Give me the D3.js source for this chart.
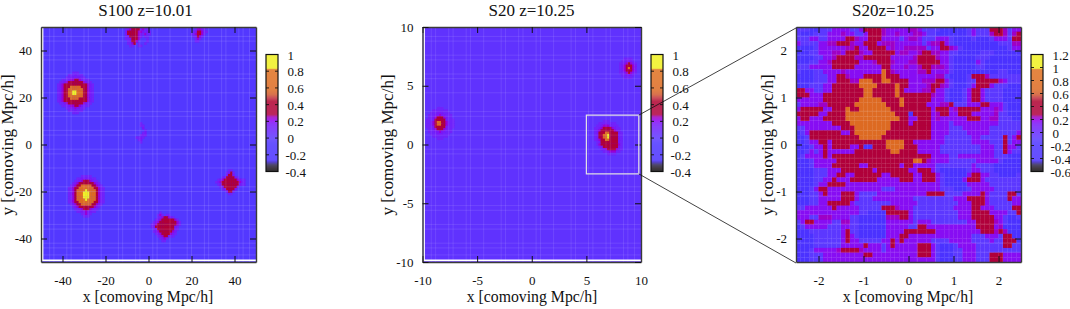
<!DOCTYPE html>
<html>
<head>
<meta charset="utf-8">
<script src="https://cdn.jsdelivr.net/npm/d3@7"></script>
<style>
html, body { margin: 0; padding: 0; background: #fff; }
text { font-family: "Liberation Serif", serif; fill: #111; }
</style>
</head>
<body>
<script>
// value of each digit used in the map rows below
const levelValues = [-0.25, -0.08, 0.17, 0.24, 0.12, 0.36, 0.7, 0.6, 1.0];

// colour palette, position along the colour bar (0 bottom, 1 top)
const paletteStops = [0, 0.03, 0.06, 0.085, 0.1, 0.24, 0.28, 0.41, 0.44, 0.47, 0.49, 0.6, 0.63, 0.66, 0.7, 0.82, 0.875, 0.885, 1];
const paletteColors = ["#0c0c0c", "#201820", "#302a50", "#3a20d0", "#4a30ff", "#4c34ff", "#5a3aff", "#7a18f8", "#9000f0", "#a000c0", "#b00040", "#b00030", "#c03040", "#d05a30", "#dc6a24", "#e07020", "#e07020", "#f0f020", "#f0f020"];

const s100Background = -0.04;
const s20Background = 0.03;

// S100 hot spots
const s100SpotA = [
  ".........444.........",
  ".......4442444.......",
  "......442222244......",
  "....4442335532444....",
  "...442355555553244...",
  "..42355555555555324..",
  "..42355577777555324..",
  "..42355766666755324..",
  "..42355768867755324..",
  "..42355768867755324..",
  "..42355766667755324..",
  "..42355577775555324..",
  "..42355555555555324..",
  "...442355555553244...",
  "....4442335532444....",
  "......442232244......",
  ".......4442444.......",
  ".........444........."
];
const s100SpotB = [
  ".......44444.......",
  ".....442222244.....",
  "....44235553244....",
  "...4235555555324...",
  "..423557777755324..",
  ".42355776667755324.",
  ".42357766866775324.",
  ".42357768886775324.",
  ".42357768886775324.",
  ".42357768886775324.",
  ".42357766866775324.",
  ".42355776667755324.",
  "..423557777755324..",
  "...4235555555324...",
  "....44235553244....",
  ".....442232244.....",
  ".......42324.......",
  "........444........"
];
const s100SpotC = [
  ".......44.......",
  "......4254......",
  "......2552......",
  "....42555524....",
  "..4235555553244.",
  ".42355555555324.",
  "..4255555555244.",
  "...425555552....",
  "....4255552.....",
  "......2554......",
  ".......44......."
];
const s100SpotD = [
  ".....4..........",
  "....434.44......",
  "....42355324....",
  "...42355555534..",
  "..4235555555534.",
  ".42355555555534.",
  ".4255555555524..",
  "..425555555524..",
  "..42355555532...",
  "...4235555324...",
  "....42355244....",
  ".....4234.......",
  "......44........"
];
const s100SpotE = [
  "....2355553424..",
  "...42355552344..",
  "...255555332424.",
  "...255555324344.",
  "...42555532.44..",
  "...4425553...4..",
  "....42553....4..",
  "....4435.4..4...",
  ".....44..44....."
];
const s100SpotF = [
  "....44244..",
  "...43324...",
  "..4255344..",
  ".4435534...",
  "..44534....",
  "...434.....",
  "...44......"
];
const s100SpotG = [
  "...4....",
  "...44...",
  "....2...",
  ".....4..",
  "....42..",
  "...422..",
  ".4424...",
  "..42....",
  "...4...."
];
const s100Spots = [
  { x: -34, y: 22, rows: s100SpotA },
  { x: -29, y: -22, rows: s100SpotB },
  { x: 38, y: -16, rows: s100SpotC },
  { x: 8, y: -35, rows: s100SpotD },
  { x: -6, y: 46, rows: s100SpotE },
  { x: 24, y: 47, rows: s100SpotF },
  { x: -3, y: 5, rows: s100SpotG }
];

// S20 hot spots
const s20SpotH = [
  "......444......",
  "....4444444....",
  "...444222444...",
  "..44422322444..",
  "..44235553244..",
  ".4442555552444.",
  ".4423567553244.",
  ".4423576553244.",
  ".4442555552444.",
  "..44235553244..",
  "..44422322444..",
  "...444222444...",
  "....4444444....",
  "......444......"
];
const s20SpotI = [
  ".......444.......",
  ".....44424444....",
  "....4423332444...",
  "...442355553244..",
  "...423555555324..",
  "...4255577555524.",
  "...4255768555524.",
  "...4255768555524.",
  "...4235577555524.",
  "....425555555524.",
  "....435555555534.",
  ".....42555555524.",
  "......4235555324.",
  ".......44233344..",
  ".........4444...."
];
const s20SpotJ = [
  "...4444....",
  "..442224...",
  ".44235324..",
  ".42355532..",
  ".42356532..",
  ".42355532..",
  ".44235324..",
  "..442224...",
  "...4444...."
];
const s20Spots = [
  { x: -8.4, y: 1.8, rows: s20SpotH },
  { x: 6.8, y: 0.6, rows: s20SpotI },
  { x: 8.9, y: 6.5, rows: s20SpotJ }
];

// zoomed map, 50 x 50 cells, first row is the top
const zoomRows = [
  "11100111222211255553222223321111000000121115553122",
  "10001112223221125553223222332110000000121113553135",
  "11122112222553225552222123321112221000010001222155",
  "21111223355532255523332222221233521000000000011133",
  "00001222222335225555232233333122553210000000000122",
  "00011222332555322555552332235533221100000111000000",
  "00001122355553355555522222355553221000001110000000",
  "00011223555555222355532223355555221000002100000000",
  "11122222555552222225522232235533321000001100000000",
  "10001122223222222226532222233522221000000000011000",
  "00001112255322255556555222222223310000155531111111",
  "00001112255533666556655552223335521000115555532111",
  "00011122555555666655556552222355321000125552111000",
  "55221122555555566555556522223352210001255211110000",
  "55522255555555566555556555555532210001255211110000",
  "22222255555555666665555655555522210001255211110000",
  "12222335555556666666555655555222335111222552221000",
  "25555522555655666666655555555525552355555222321000",
  "55555225555666666666665550555523552255522222311000",
  "25522255555666666666666552255523222222555223311100",
  "22222222555566666666655552555522221222222222211111",
  "11222222225556666666655555555522221112222221111111",
  "01255555552256666666555555555522221111222221111112",
  "00155555555555666665555555555522211111122111115125",
  "00122552555555555555666655222222211111122221115122",
  "00012252555522500555666655522222111111111222115221",
  "00121252222225555555566555522222111111111222115211",
  "01222252555555555555555555555522221122222222111000",
  "00012222255555555555555555665322221111112222210000",
  "00012222555555225555555255222221111111121111000000",
  "00001112225555555255555552255521000000122111000000",
  "00001112255225555552255555225552100000255221100001",
  "00001122522255555522222555225552100002555211111111",
  "00001225555222222222222222222222100000222221111111",
  "00012552222222222221112222222222111000122222111111",
  "00011252225552111122222222222555511112222521111551",
  "00011222225552111222222222111111111222555521111522",
  "00011225555521111111122222211111111122255521111122",
  "11222222522222111115553222111111111222255222111155",
  "22222222222222110000555552111111111122255552222115",
  "22211333222211000000333552111111111122255555221001",
  "12552222113311000000222222122211111111225555321000",
  "01222221112211000000222221155222222222225555230000",
  "00011111112511000000222255555552222222222555353000",
  "00001111112521000000222552222222222222211122215500",
  "00001111112522111112252522222211112222211112115550",
  "00001111112222252221252222255521000122221111115511",
  "00012222235555322221222222255521000112221111111111",
  "00011122222222255222222222255521000112221115552222",
  "00011122222222222222222222222221000112221115552222"
];

// pale seams running through the maps
const s100SeamsX = [-46, -44, -38, -36, -30, -28, -22, -14, -12, -6, -4, 2, 4, 10, 18, 20, 26, 28, 34, 36, 42, 44, 47];
const s100SeamsY = [46, 44, 38, 36, 30, 28, 22, 14, 12, 6, 4, -2, -4, -10, -18, -20, -26, -28, -34, -36, -42, -44, -47];
const s20SeamsX = [-9.2, -8.8, -7.6, -7.2, -6, -5.6, -4.4, -2.8, -2.4, -1.2, -0.8, 0.4, 0.8, 2, 3.6, 4, 5.2, 5.6, 6.8, 7.2, 8.4, 8.8, 9.4];
const s20SeamsY = [9.2, 8.8, 7.6, 7.2, 6, 5.6, 4.4, 2.8, 2.4, 1.2, 0.8, -0.4, -0.8, -2, -3.6, -4, -5.2, -5.6, -6.8, -7.2, -8.4, -8.8, -9.4];
const zoomSeamsX = [-2.31, -2.11, -1.71, -1.51, -1.31, -0.91, -0.71, -0.51, -0.31, -0.11, 0.19, 0.6, 0.9, 1.09, 1.29, 1.49, 1.69, 2.09, 2.29];
const zoomSeamsY = [2.31, 1.91, 1.71, 1.31, 1.11, 0.71, 0.51, 0.11, -0.29, -0.49, -0.89, -1.09, -1.49, -1.69, -2.09, -2.29];

const s100Ticks = [-40, -20, 0, 20, 40];
const s20Ticks = [-10, -5, 0, 5, 10];
const zoomTicks = [-2, -1, 0, 1, 2];
const barTicksLow = [-0.4, -0.2, 0, 0.2, 0.4, 0.6, 0.8, 1];
const barTicksZoom = [-0.6, -0.4, -0.2, 0, 0.2, 0.4, 0.6, 0.8, 1, 1.2];

const svg = d3.select("body").append("svg")
  .attr("width", 1070)
  .attr("height", 309)
  .style("display", "block");

const defs = svg.append("defs");
defs.append("filter").attr("id", "soft")
  .attr("x", 0).attr("y", 0).attr("width", 1).attr("height", 1)
  .append("feGaussianBlur").attr("stdDeviation", 0.45);

const palette = d3.scaleLinear().domain(paletteStops).range(paletteColors).clamp(true);

function drawPanel(p) {
  const x = d3.scaleLinear().domain(p.domain).range([p.left, p.right]);
  const y = d3.scaleLinear().domain(p.domain).range([p.bottom, p.top]);
  const t = d3.scaleLinear().domain(p.barDomain).range([0, 1]);
  const color = v => palette(t(v));

  defs.append("clipPath").attr("id", "clip" + p.id)
    .append("rect")
    .attr("x", p.left).attr("y", p.top)
    .attr("width", p.right - p.left).attr("height", p.bottom - p.top);

  const g = svg.append("g");
  const clipped = g.append("g").attr("clip-path", "url(#clip" + p.id + ")");
  const map = clipped.append("g").attr("filter", "url(#soft)");

  if (p.background !== undefined) {
    map.append("rect")
      .attr("x", p.left).attr("y", p.top)
      .attr("width", p.right - p.left).attr("height", p.bottom - p.top)
      .attr("fill", color(p.background));
  }

  map.selectAll("rect.cell")
    .data(p.cells)
    .enter().append("rect")
    .attr("class", "cell")
    .attr("x", d => x(d.x))
    .attr("y", d => y(d.y))
    .attr("width", x(p.domain[0] + p.step) - x(p.domain[0]) + 0.3)
    .attr("height", y(p.domain[0]) - y(p.domain[0] + p.step) + 0.3)
    .attr("fill", d => color(d.v));

  clipped.selectAll("line.sx").data(p.seamsX).enter().append("line")
    .attr("x1", d => x(d)).attr("x2", d => x(d))
    .attr("y1", p.top).attr("y2", p.bottom)
    .attr("stroke", "#fff").attr("stroke-opacity", p.seamOpacity).attr("stroke-width", 1);
  clipped.selectAll("line.sy").data(p.seamsY).enter().append("line")
    .attr("y1", d => y(d)).attr("y2", d => y(d))
    .attr("x1", p.left).attr("x2", p.right)
    .attr("stroke", "#fff").attr("stroke-opacity", p.seamOpacity).attr("stroke-width", 1);

  if (p.whiteEdge) {
    g.append("path")
      .attr("d", `M${p.left + 1.6},${p.top}V${p.bottom - 1.6}H${p.right}`)
      .attr("fill", "none").attr("stroke", "#fff").attr("stroke-width", 1.6);
  }

  // axes on all four sides, ticks pointing inward
  const fmt = d => String(d);
  const sides = [
    [d3.axisBottom(x).tickFormat(fmt).tickPadding(14), `translate(0,${p.bottom})`],
    [d3.axisTop(x).tickFormat(""), `translate(0,${p.top})`],
    [d3.axisLeft(y).tickFormat(fmt).tickPadding(p.yPad), `translate(${p.left},0)`],
    [d3.axisRight(y).tickFormat(""), `translate(${p.right},0)`]
  ];
  sides.forEach(([axis, tr]) => {
    const a = g.append("g").attr("transform", tr)
      .call(axis.tickValues(p.ticks).tickSizeInner(-6).tickSizeOuter(0));
    a.select(".domain").attr("stroke", "#3a3a3a").attr("stroke-width", 1.4);
    a.selectAll(".tick line").attr("stroke", "#111").attr("stroke-width", 1);
    a.selectAll("text").attr("font-size", 13).style("font-family", '"Liberation Serif", serif').attr("fill", "#111");
  });

  g.append("text").attr("text-anchor", "middle")
    .attr("x", p.titleX).attr("y", 15.5)
    .attr("font-size", 17).text(p.title);
  // the source picture is slightly stretched upward, so the labels are too
  g.append("text").attr("text-anchor", "middle")
    .attr("transform", `translate(${p.labelX},302) scale(1,1.09)`)
    .attr("font-size", 15.8).text("x [comoving Mpc/h]");
  g.append("text").attr("text-anchor", "middle").attr("font-size", 15.8)
    .attr("transform", `translate(${p.labelY},145) rotate(-90) scale(1.08,1)`)
    .text("y [comoving Mpc/h]");

  // colour bar
  const barTop = 54.5, barBottom = 171.5;
  const by = d3.scaleLinear().domain(p.barDomain).range([barBottom, barTop]);
  const barG = g.append("g");
  barG.selectAll("rect").data(d3.range(0, 117)).enter().append("rect")
    .attr("x", p.barX).attr("width", 12)
    .attr("y", d => barBottom - d - 1).attr("height", 1.2)
    .attr("fill", d => palette((d + 0.5) / 117));
  barG.append("rect").attr("x", p.barX).attr("y", barTop).attr("width", 12).attr("height", barBottom - barTop)
    .attr("fill", "none").attr("stroke", "#111").attr("stroke-width", 1.2);
  barG.selectAll("path.t").data(p.barTicks).enter().append("path")
    .attr("d", d => `M${p.barX},${by(d)}h3M${p.barX + 12},${by(d)}h-3`)
    .attr("stroke", "#111").attr("stroke-width", 0.9);
  barG.selectAll("text").data(p.barTicks).enter().append("text")
    .attr("x", d => d < 0 ? p.barX + 19.5 : p.barX + 21.5)
    .attr("y", d => by(d) + 5)
    .attr("font-size", 13)
    .text(d => String(d));
}

function spotCells(spots, step) {
  const cells = [];
  spots.forEach(s => {
    s.rows.forEach((row, r) => {
      row.split("").forEach((ch, c) => {
        if (ch === ".") return;
        cells.push({
          x: s.x + (c - row.length / 2) * step,
          y: s.y + (s.rows.length / 2 - r) * step,
          v: levelValues[+ch]
        });
      });
    });
  });
  return cells;
}

function gridCells(rows, step, start) {
  const cells = [];
  rows.forEach((row, r) => {
    row.split("").forEach((ch, c) => {
      cells.push({ x: start + c * step, y: -start - r * step, v: levelValues[+ch] });
    });
  });
  return cells;
}

drawPanel({
  id: "a", title: "S100 z=10.01", titleX: 145.5, labelX: 148, labelY: 13,
  left: 41, right: 256, top: 27, bottom: 262,
  domain: [-50, 50], step: 1, ticks: s100Ticks, yPad: 9,
  background: s100Background, cells: spotCells(s100Spots, 1),
  seamsX: s100SeamsX, seamsY: s100SeamsY, seamOpacity: 0.12, whiteEdge: true,
  barX: 266, barDomain: [-0.4, 1], barTicks: barTicksLow
});

drawPanel({
  id: "b", title: "S20 z=10.25", titleX: 531.5, labelX: 532, labelY: 393,
  left: 422.5, right: 641, top: 27, bottom: 262,
  domain: [-10, 10], step: 0.2, ticks: s20Ticks, yPad: 9,
  background: s20Background, cells: spotCells(s20Spots, 0.2),
  seamsX: s20SeamsX, seamsY: s20SeamsY, seamOpacity: 0.1, whiteEdge: true,
  barX: 651, barDomain: [-0.4, 1], barTicks: barTicksLow
});

drawPanel({
  id: "c", title: "S20z=10.25", titleX: 893, labelX: 908, labelY: 773,
  left: 796, right: 1021, top: 27, bottom: 262,
  domain: [-2.5, 2.5], step: 0.1, ticks: zoomTicks, yPad: 9,
  cells: gridCells(zoomRows, 0.1, -2.5),
  seamsX: zoomSeamsX, seamsY: zoomSeamsY, seamOpacity: 0.11, whiteEdge: false,
  barX: 1031, barDomain: [-0.6, 1.2], barTicks: barTicksZoom
});

// inset box on the middle panel and the lines joining it to the zoomed panel
const bx = d3.scaleLinear().domain([-10, 10]).range([422.5, 641]);
const by2 = d3.scaleLinear().domain([-10, 10]).range([262, 27]);
svg.append("rect")
  .attr("x", bx(5)).attr("y", by2(2.5))
  .attr("width", bx(9.8) - bx(5)).attr("height", by2(-2.5) - by2(2.5))
  .attr("fill", "none").attr("stroke", "#e4e4e4").attr("stroke-width", 1.2);
svg.append("line").attr("x1", bx(9.8)).attr("y1", by2(2.5)).attr("x2", 796).attr("y2", 28)
  .attr("stroke", "#111").attr("stroke-width", 0.8);
svg.append("line").attr("x1", bx(9.8)).attr("y1", by2(-2.5)).attr("x2", 796).attr("y2", 263)
  .attr("stroke", "#111").attr("stroke-width", 0.8);
</script>
</body>
</html>
